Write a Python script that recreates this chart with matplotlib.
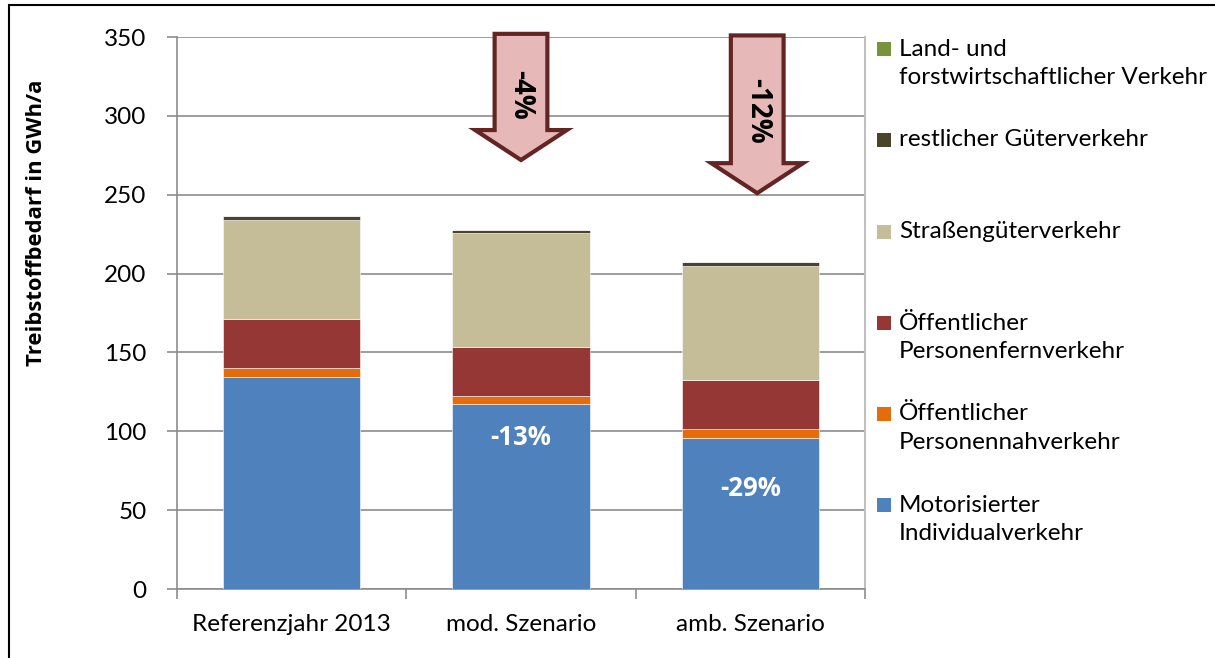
import matplotlib
matplotlib.use('Agg')
import matplotlib.pyplot as plt
from matplotlib.patches import Polygon, Rectangle
import numpy as np

plt.rcParams['font.family'] = ['Lato', 'DejaVu Sans']
BOLD = ['Open Sans', 'DejaVu Sans']

categories = ['Referenzjahr 2013', 'mod. Szenario', 'amb. Szenario']

# stacked series, bottom to top (GWh/a)
motorisiert = [134.2, 117.3, 95.6]
oepnv_nah = [5.9, 5.1, 6.0]
oepnv_fern = [30.9, 30.9, 30.9]
strassengueter = [63.0, 72.4, 72.1]
rest_gueter = [2.5, 1.9, 2.6]
land_forst = [0.2, 0.2, 0.2]

series = [motorisiert, oepnv_nah, oepnv_fern, strassengueter, rest_gueter, land_forst]
labels = ['Motorisierter\nIndividualverkehr',
          'Öffentlicher\nPersonennahverkehr',
          'Öffentlicher\nPersonenfernverkehr',
          'Straßengüterverkehr',
          'restlicher Güterverkehr',
          'Land- und\nforstwirtschaftlicher Verkehr']
colors = ['#4F81BD', '#E46C0A', '#953735', '#C4BD97', '#4A452A', '#77933C']

# change labels
inner_labels = [(1, 96, '-13%'), (2, 64, '-29%')]
# arrows: category, top, head base, tip, text, text y
arrows = [(1.0, 352, 291, 272, '-4%', 313), (2.03, 351, 270, 251, '-12%', 303)]

fig = plt.figure(figsize=(12.15, 6.58), dpi=100)
ax = fig.add_axes([177 / 1215, 1 - 589 / 658, 688 / 1215, 552 / 658])

x = np.arange(len(categories))
bottom = np.zeros(len(categories))
for vals, col in zip(series, colors):
    ax.bar(x, vals, 0.6, bottom=bottom, color=col, edgecolor='white', linewidth=0.4, zorder=3)
    bottom += np.array(vals)

ax.set_xlim(-0.5, 2.5)
ax.set_ylim(0, 350)
ax.set_yticks(np.arange(0, 351, 50))
ax.grid(axis='y', color='#8c8c8c', linewidth=1.2, zorder=0)
ax.set_xticks(x)
ax.set_xticklabels(categories, fontsize=17.5)
ax.set_xticks([-0.5, 0.5, 1.5, 2.5], minor=True)
ax.tick_params(axis='x', which='major', length=0, pad=18)
ax.tick_params(axis='x', which='minor', length=7, color='#8c8c8c', width=1.2)
ax.tick_params(axis='y', length=7, color='#8c8c8c', width=1.2, labelsize=17.5, pad=15)
for s in ['left', 'bottom']:
    ax.spines[s].set_color('#8c8c8c')
    ax.spines[s].set_linewidth(1.2)
ax.spines['top'].set_visible(False)
ax.spines['right'].set_color('#c0c0c0')
ax.spines['right'].set_linewidth(1.5)

fig.text(37 / 1215, 1 - 223 / 658, 'Treibstoffbedarf in GWh/a', rotation=90,
         ha='center', va='center', fontsize=15.8, fontweight='bold', family=BOLD)

for xi, yi, t in inner_labels:
    ax.text(xi, yi, t, color='white', fontsize=18.5, fontweight='bold', family=BOLD,
            ha='center', va='center', zorder=5)

for xc, ytop, ybase, ytip, t, ty in arrows:
    sw, hw = 0.115, 0.2
    pts = [(xc - sw, ytop), (xc + sw, ytop), (xc + sw, ybase), (xc + hw, ybase),
           (xc, ytip), (xc - hw, ybase), (xc - sw, ybase)]
    ax.add_patch(Polygon(pts, closed=True, facecolor='#E6B9B8', edgecolor='#632523',
                         linewidth=3, clip_on=False, zorder=6, joinstyle='miter'))
    ax.text(xc, ty, t, rotation=270, ha='center', va='center',
            fontsize=20, fontweight='bold', family=BOLD, zorder=7)

# legend drawn by hand (top entry first)
ys = [49, 140, 232, 323, 414, 505]
for yy, lab, col in zip(ys, labels[::-1], colors[::-1]):
    fig.patches.append(Rectangle((877 / 1215, 1 - (yy + 7) / 658), 14 / 1215, 14 / 658,
                                 transform=fig.transFigure, facecolor=col, edgecolor='none'))
    for i, line in enumerate(lab.split('\n')):
        fig.text(899 / 1215, 1 - (yy + 28.5 * i) / 658, line, ha='left', va='center',
                 fontsize=17.5)

# frame around the chart
fig.patches.append(Rectangle((9 / 1215, -0.1), 1.2, 1 - 5 / 658 + 0.1, transform=fig.transFigure,
                             facecolor='none', edgecolor='black', linewidth=1.5))

fig.savefig('out.png', dpi=100)
